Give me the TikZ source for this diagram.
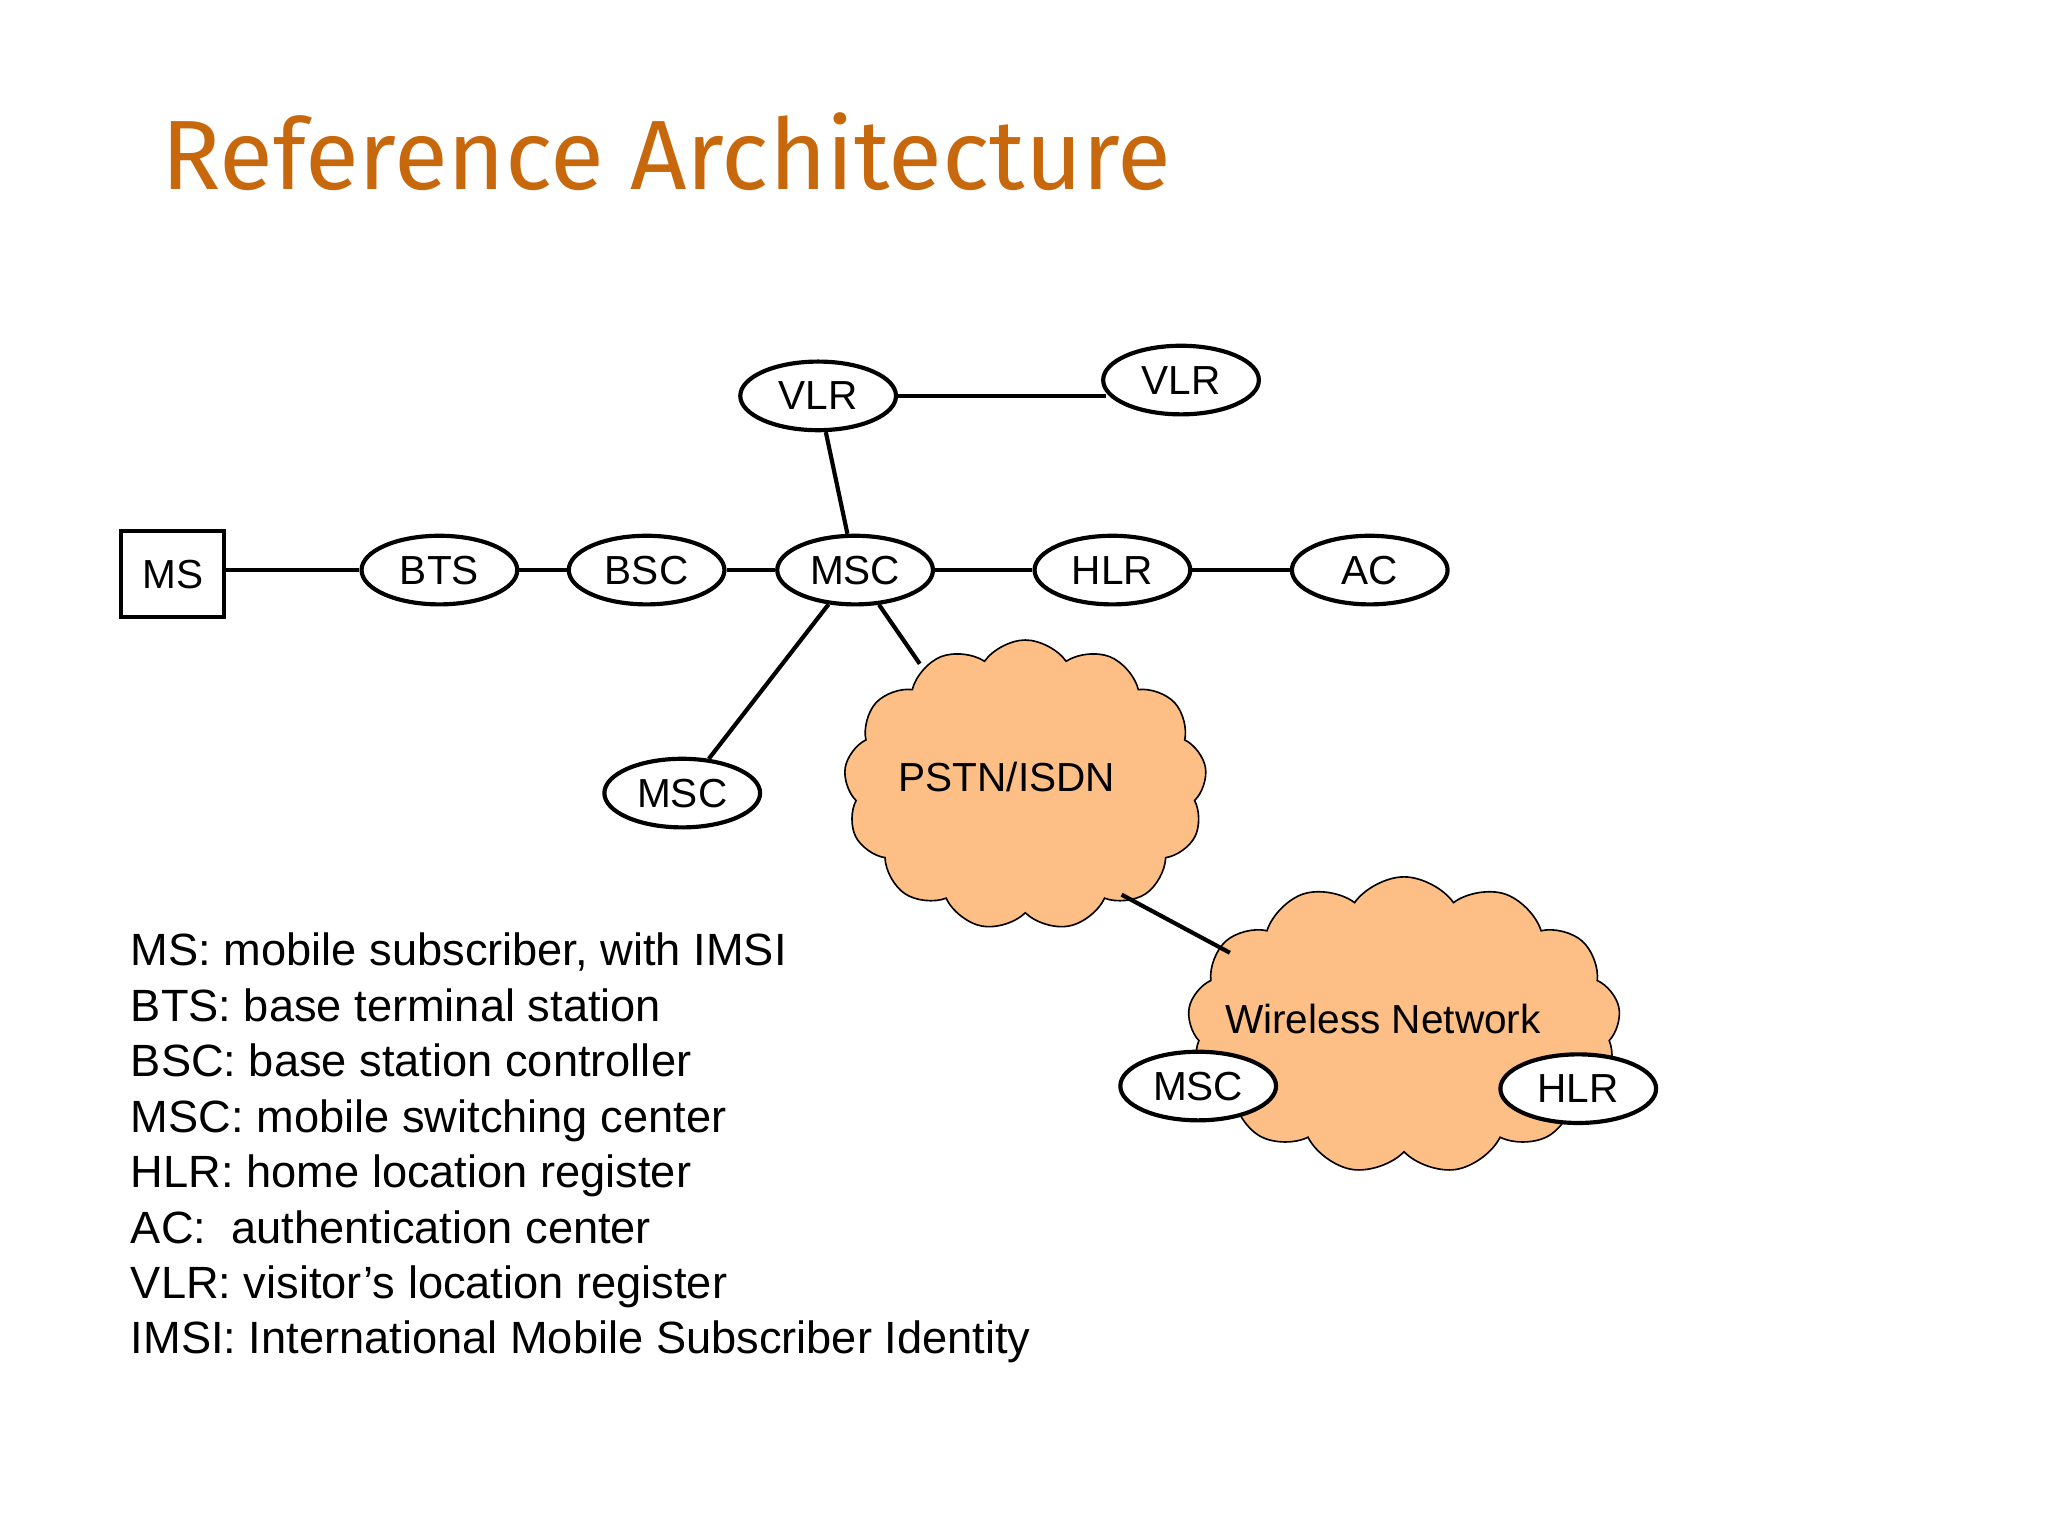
\documentclass[tikz,border=0pt]{standalone}
\usepackage{fontspec}
\setmainfont{Liberation Sans}
\newfontfamily\titlefont{Fira Sans}
\usetikzlibrary{shapes.geometric,shapes.symbols}
\definecolor{titleor}{HTML}{C8680C}
\definecolor{cloudfill}{HTML}{FDBF85}
\begin{document}
\begin{tikzpicture}[x=0.02cm,y=-0.02cm,
  el/.style={ellipse,draw,line width=1.8pt,fill=white,minimum width=118*0.02cm,minimum height=52*0.02cm,inner sep=0pt,font=\fontsize{17.5}{20}\selectfont},
  cl/.style={cloud,cloud puffs=13,cloud puff arc=110,aspect=1.2,draw,line width=0.7pt,fill=cloudfill,inner sep=0pt},
  ln/.style={line width=1.8pt},
  leg/.style={anchor=base west,font=\fontsize{19.5}{22}\selectfont}]
\useasboundingbox (0,0) rectangle (1552,1164);
\node[anchor=west,text=titleor,font=\titlefont\fontsize{42.5}{50}\selectfont] (title) at (116,115) {Reference Architecture};
\node[cl,minimum width=275*0.02cm,minimum height=220*0.02cm] (pstn) at (777,595) {};
\node[font=\fontsize{17.5}{20}\selectfont] (pstnt) at (763,589) {PSTN/ISDN};
\node[cl,minimum width=328*0.02cm,minimum height=225*0.02cm] (wn) at (1064,777) {};
\node[font=\fontsize{17.5}{20}\selectfont] (wnt) at (1048,772) {Wireless Network};
\node[draw,line width=1.8pt,minimum width=78*0.02cm,minimum height=65*0.02cm,font=\fontsize{17.5}{20}\selectfont] (ms) at (131,435) {MS};
\node[el] (bts) at (333,432) {BTS};
\node[el] (bsc) at (490,432) {BSC};
\node[el] (msc) at (648,432) {MSC};
\node[el] (hlr) at (843,432) {HLR};
\node[el] (ac) at (1038,432) {AC};
\node[el] (vlr1) at (620,300) {VLR};
\node[el] (vlr2) at (895,288) {VLR};
\node[el] (mscb) at (517,601) {MSC};
\node[el] (msc2) at (908,823) {MSC};
\node[el] (hlr2) at (1196,825) {HLR};
\coordinate (v2w) at (838,300);
\draw[ln] (ms.east |- bts) -- (bts) (bts) -- (bsc) (bsc) -- (msc) (msc) -- (hlr) (hlr) -- (ac);
\draw[ln] (vlr1.east) -- (v2w);
\draw[ln] (vlr1) -- (msc);
\draw[ln] (msc) -- (mscb);
\coordinate (p1) at (697,503);
\coordinate (p2) at (850,678);
\coordinate (w1) at (932,722);
\draw[ln] (msc) -- (p1);
\draw[ln] (p2) -- (w1);
\foreach \t [count=\i] in {{MS: mobile subscriber, with IMSI},BTS: base terminal station,BSC: base station controller,MSC: mobile switching center,HLR: home location register,AC:\ \ authentication center,VLR: visitor’s location register,IMSI: International Mobile Subscriber Identity}
  \node[leg] (leg\i) at (93,690+42*\i) {\t};
\end{tikzpicture}
\end{document}
